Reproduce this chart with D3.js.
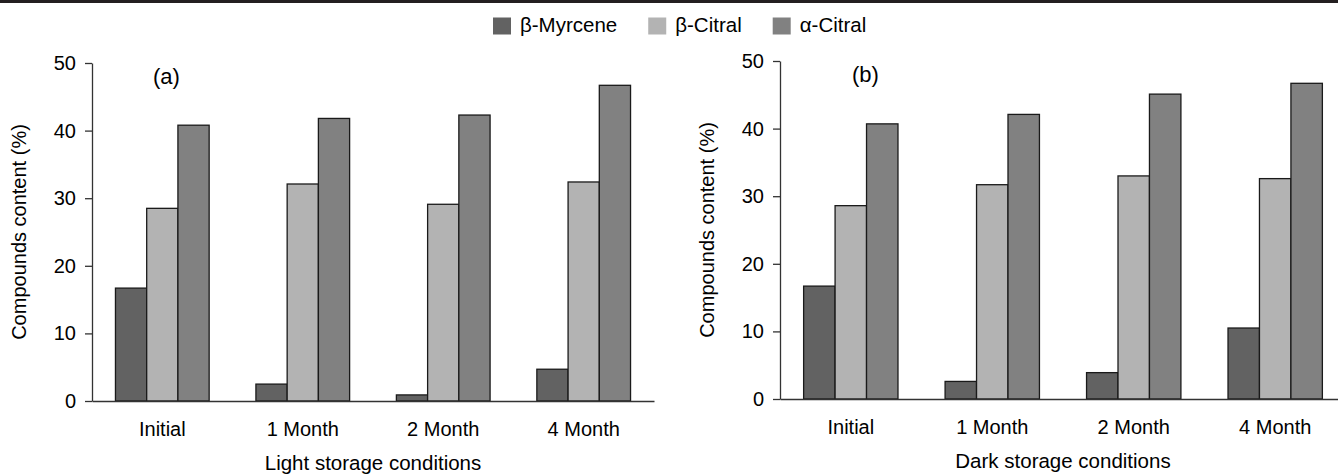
<!DOCTYPE html>
<html>
<head>
<meta charset="utf-8">
<script src="https://cdn.jsdelivr.net/npm/d3@7"></script>
<style>
  body { margin: 0; background: #fff; }
  svg text { font-family: "Liberation Sans", Arial, Helvetica, sans-serif; fill: #000; }
</style>
</head>
<body>
<div id="chart"></div>
<script>
// data
var categories = ["Initial", "1 Month", "2 Month", "4 Month"];
var seriesNames = ["β-Myrcene", "β-Citral", "α-Citral"];
var seriesColors = ["#626262", "#b3b3b3", "#818181"];
var yTicks = [0, 10, 20, 30, 40, 50];

// light storage (a)
var lightMyrcene = [16.7, 2.5, 0.9, 4.7];
var lightBetaCitral = [28.5, 32.1, 29.1, 32.4];
var lightAlphaCitral = [40.8, 41.8, 42.3, 46.7];

// dark storage (b)
var darkMyrcene = [16.7, 2.6, 3.9, 10.5];
var darkBetaCitral = [28.6, 31.7, 33.0, 32.6];
var darkAlphaCitral = [40.7, 42.1, 45.1, 46.7];

var width = 1338, height = 476;

var svg = d3.select("#chart").append("svg")
    .attr("width", width)
    .attr("height", height);

// black rule on top
svg.append("rect")
    .attr("x", 0).attr("y", 0)
    .attr("width", width).attr("height", 3)
    .attr("fill", "#231f20");

// legend
var legend = svg.append("g").attr("class", "legend");
var lx = 493;
seriesNames.forEach(function(name, i) {
  legend.append("rect")
      .attr("x", lx).attr("y", 17.5)
      .attr("width", 18).attr("height", 17)
      .attr("fill", seriesColors[i]);
  var t = legend.append("text")
      .attr("x", lx + 27).attr("y", 31.5)
      .style("font-size", "20.5px")
      .text(name);
  lx = lx + 27 + t.node().getComputedTextLength() + 31;
});

drawPanel({
  x0: 92, x1: 654, yTop: 63, yBottom: 401,
  letter: "(a)", letterX: 153,
  title: "Light storage conditions",
  values: [lightMyrcene, lightBetaCitral, lightAlphaCitral]
});

drawPanel({
  x0: 780, x1: 1346, yTop: 61, yBottom: 399,
  letter: "(b)", letterX: 852,
  title: "Dark storage conditions",
  values: [darkMyrcene, darkBetaCitral, darkAlphaCitral]
});

function drawPanel(p) {
  var g = svg.append("g");

  var x = d3.scaleBand()
      .domain(categories)
      .range([p.x0, p.x1])
      .paddingInner(0.333)
      .paddingOuter(0.167);

  var xs = d3.scaleBand()
      .domain(seriesNames)
      .range([0, x.bandwidth()]);

  var y = d3.scaleLinear()
      .domain([0, 50])
      .range([p.yBottom, p.yTop]);

  //one row per category, one bar per series
  var rows = categories.map(function(c, i) {
    return { cat: c, vals: seriesNames.map(function(s, j) {
      return { name: s, color: seriesColors[j], v: p.values[j][i] };
    }) };
  });

  var groups = g.selectAll("g.cat")
      .data(rows)
      .enter().append("g")
      .attr("class", "cat")
      .attr("transform", function(d) { return "translate(" + x(d.cat) + ",0)"; });

  groups.selectAll("rect")
      .data(function(d) { return d.vals; })
      .enter().append("rect")
      .attr("x", function(d) { return xs(d.name); })
      .attr("y", function(d) { return y(d.v); })
      .attr("width", xs.bandwidth())
      .attr("height", function(d) { return y(0) - y(d.v); })
      .attr("fill", function(d) { return d.color; })
      .attr("stroke", "#1a1a1a")
      .attr("stroke-width", 1.3);

  // y axis
  var ya = g.append("g")
      .attr("transform", "translate(" + p.x0 + ",0)")
      .call(d3.axisLeft(y).tickValues(yTicks).tickSize(7).tickPadding(9).tickSizeOuter(0));
  ya.selectAll("text").style("font-size", "20px").attr("fill", "#000");

  // x axis
  var xa = g.append("g")
      .attr("transform", "translate(0," + p.yBottom + ")")
      .call(d3.axisBottom(x).tickSize(0).tickPadding(21).tickSizeOuter(0));
  xa.selectAll("text").style("font-size", "20px").attr("fill", "#000");

  svg.selectAll(".domain, .tick line")
      .attr("stroke", "#333")
      .attr("stroke-width", 1.3);

  // panel letter
  g.append("text")
      .attr("x", p.letterX)
      .attr("y", p.yTop + 20.5)
      .style("font-size", "22px")
      .text(p.letter);

  // axis titles
  g.append("text")
      .attr("x", (p.x0 + p.x1) / 2)
      .attr("y", p.yBottom + 69)
      .attr("text-anchor", "middle")
      .style("font-size", "20.5px")
      .text(p.title);

  g.append("text")
      .attr("transform", "translate(" + (p.x0 - 66) + "," + ((p.yTop + p.yBottom) / 2) + ") rotate(-90)")
      .attr("text-anchor", "middle")
      .style("font-size", "20px")
      .text("Compounds content (%)");
}
</script>
</body>
</html>
